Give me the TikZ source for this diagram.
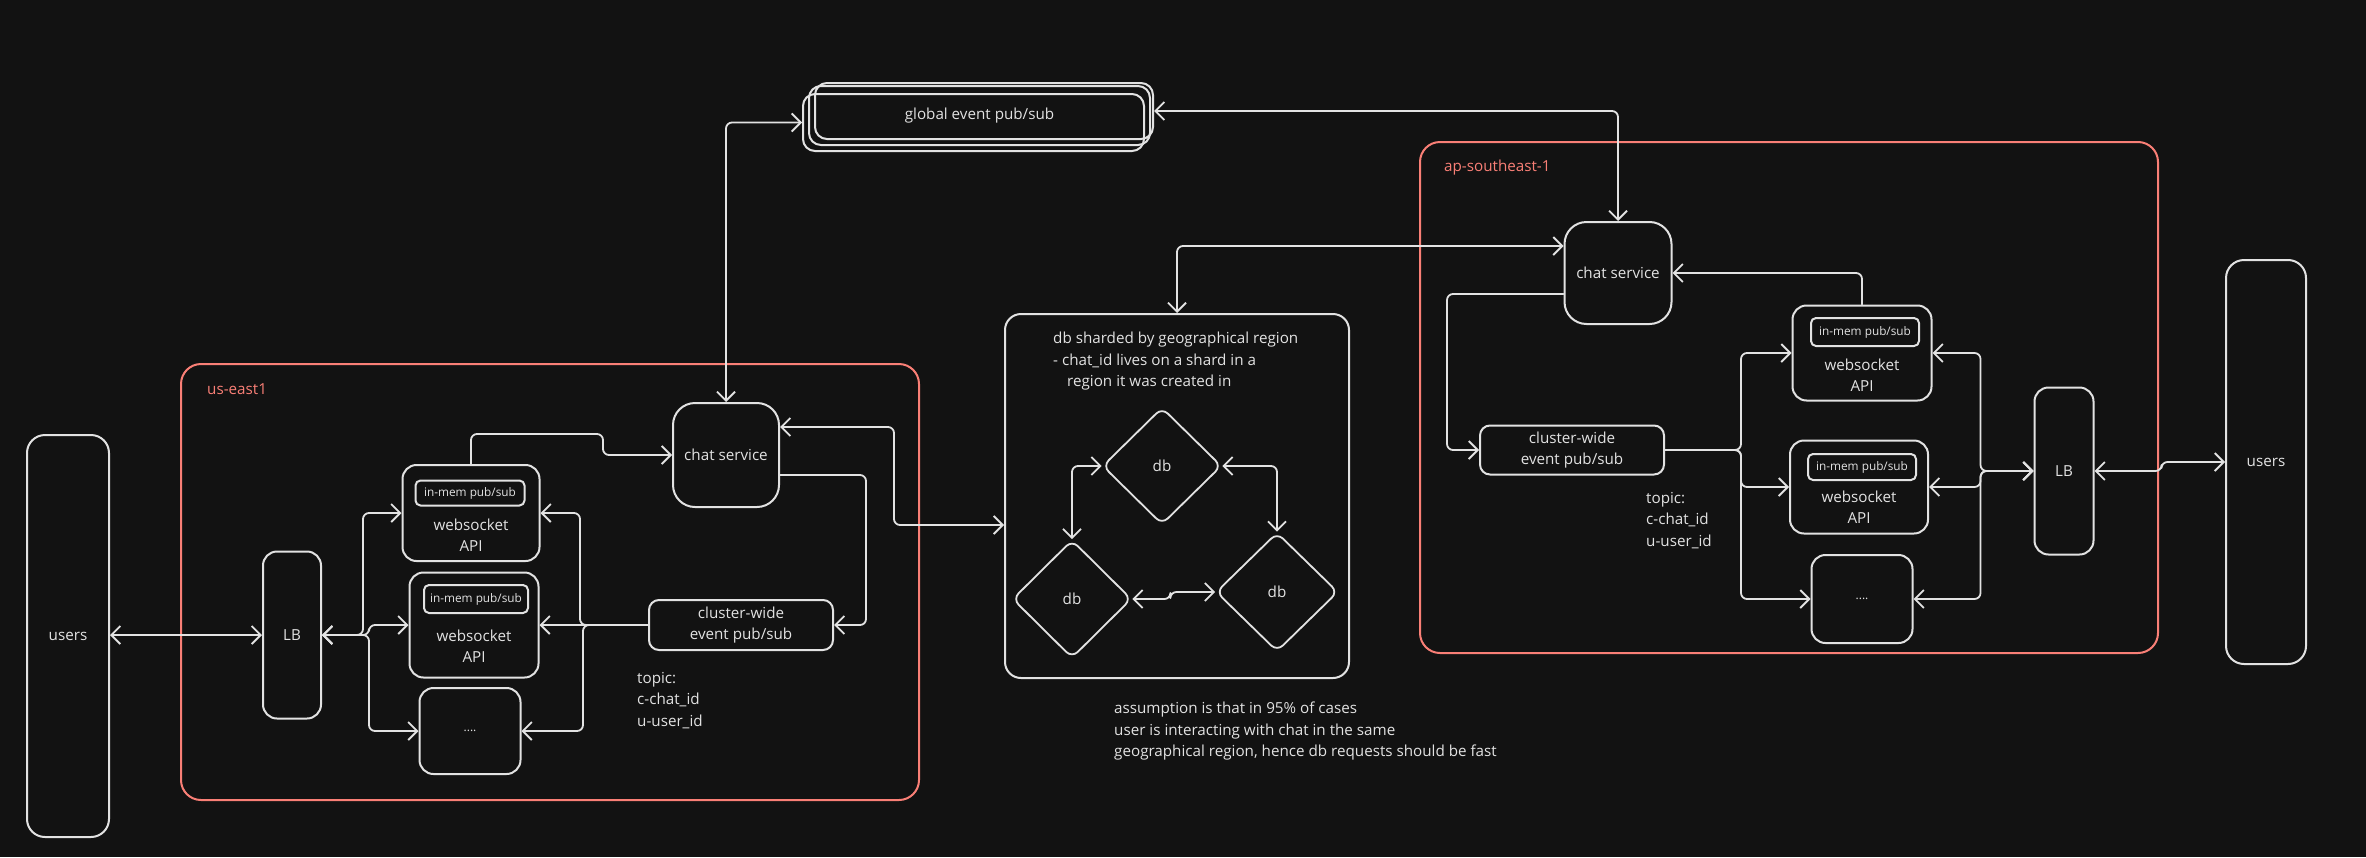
\documentclass[tikz,border=0pt]{standalone}
\usepackage{fontspec}
\setmainfont{Open Sans}
\usetikzlibrary{arrows.meta,calc,shapes.geometric}
\definecolor{bg}{HTML}{121212}
\definecolor{ink}{HTML}{E2E2E2}
\definecolor{zone}{HTML}{F97F76}
\newcommand{\txtsize}{\fontsize{15.2}{21.5}\selectfont}

\begin{document}
\begin{tikzpicture}[x=1pt,y=-1pt]
  \tikzset{
    >={Straight Barb[length=9pt,width=18pt]},
    box/.style={draw=ink, line width=2pt, rounded corners=14pt, text=ink, font=\txtsize, align=center, inner sep=0pt},
    pill/.style={draw=ink, line width=2pt, rounded corners=5pt, text=ink, font=\fontsize{11.8}{14}\selectfont, inner sep=0pt},
    shard/.style={diamond, draw=ink, line width=1.8pt, rounded corners=8pt, text=ink, font=\txtsize, inner sep=0pt},
    region/.style={draw=zone, line width=2pt, rounded corners=20pt},
    tag/.style={text=zone, font=\txtsize, anchor=west, inner sep=0pt},
    txt/.style={text=ink, font=\txtsize, align=center, inner sep=0pt},
    note/.style={text=ink, font=\txtsize, align=left, anchor=north west, inner sep=0pt},
    dots/.style={box, font=\fontsize{12}{12}\selectfont},
    every path/.append style={line cap=round, line join=round},
    link/.style={draw=ink, line width=1.8pt, rounded corners=6pt}
  }
  \fill[bg] (0,0) rectangle (2366,857);
  \useasboundingbox (0,0) rectangle (2366,857);

  % us-east1
  \draw[region] (181,364) rectangle (919,800);
  \node[tag] (ueTag) at (207,389) {us-east1};
  \node[box, minimum width=82pt, minimum height=402pt, rounded corners=18pt] (ueUsers) at (68,636) {users};
  \node[box, minimum width=58pt, minimum height=167pt] (ueLB) at (292,635) {LB};
  \node[box, minimum width=137pt, minimum height=96pt] (ueWsA) at (471,513) {};
  \node[pill, minimum width=109pt, minimum height=25pt] (ueMemA) at (470,493) {in-mem pub/sub};
  \node[txt] (ueApiA) at (471,535) {websocket\\API};
  \node[box, minimum width=129pt, minimum height=105pt] (ueWsB) at (474,625) {};
  \node[pill, minimum width=104pt, minimum height=28pt] (ueMemB) at (476,599) {in-mem pub/sub};
  \node[txt] (ueApiB) at (474,646) {websocket\\API};
  \node[dots, minimum width=101pt, minimum height=86pt] (ueMore) at (470,731) {....};
  \node[box, minimum width=106pt, minimum height=104pt, rounded corners=22pt] (ueChat) at (726,455) {chat service};
  \node[box, minimum width=184pt, minimum height=50pt, rounded corners=10pt] (ueBus) at (741,625) {cluster-wide\\event pub/sub};
  \node[note] (ueTopic) at (637,672) {topic:\\c-chat\_id\\u-user\_id};

  % global bus
  \node[box, minimum width=338pt, minimum height=56pt, rounded corners=12pt] (globalC) at (984,111) {};
  \node[box, minimum width=341pt, minimum height=59pt, rounded corners=12pt] (globalB) at (979.5,115.5) {global event pub/sub};
  \node[box, minimum width=341pt, minimum height=57pt, rounded corners=12pt] (globalA) at (973.5,122.5) {};

  % sharded db
  \node[box, minimum width=344pt, minimum height=364pt, rounded corners=16pt] (dbBox) at (1177,496) {};
  \node[note] (dbNote) at (1053,332) {db sharded by geographical region\\- chat\_id lives on a shard in a\\\hspace*{14pt}region it was created in};
  \node[shard, minimum width=119pt, minimum height=117pt] (dbTop) at (1162,466) {db};
  \node[shard, minimum width=119pt, minimum height=118pt] (dbLeft) at (1072,599) {db};
  \node[shard, minimum width=122pt, minimum height=119pt] (dbRight) at (1277,592) {db};
  \node[note] (dbAssume) at (1114,702) {assumption is that in 95\% of cases\\user is interacting with chat in the same\\geographical region, hence db requests should be fast};

  % ap-southeast-1
  \draw[region] (1420,142) rectangle (2158,653);
  \node[tag] (apTag) at (1444,168) {ap-southeast-1};
  \node[box, minimum width=107pt, minimum height=102pt, rounded corners=22pt] (apChat) at (1618,273) {chat service};
  \node[box, minimum width=184pt, minimum height=49pt, rounded corners=10pt] (apBus) at (1572,450) {cluster-wide\\event pub/sub};
  \node[note] (apTopic) at (1646,492) {topic:\\c-chat\_id\\u-user\_id};
  \node[box, minimum width=139pt, minimum height=95pt] (apWsA) at (1862,353) {};
  \node[pill, minimum width=108pt, minimum height=28pt] (apMemA) at (1865,332) {in-mem pub/sub};
  \node[txt] (apApiA) at (1862,375) {websocket\\API};
  \node[box, minimum width=138pt, minimum height=93pt] (apWsB) at (1859,487) {};
  \node[pill, minimum width=108pt, minimum height=26pt] (apMemB) at (1862,467) {in-mem pub/sub};
  \node[txt] (apApiB) at (1859,507) {websocket\\API};
  \node[dots, minimum width=101pt, minimum height=88pt] (apMore) at (1862,599) {....};
  \node[box, minimum width=59pt, minimum height=167pt] (apLB) at (2064,471) {LB};
  \node[box, minimum width=80pt, minimum height=404pt, rounded corners=18pt] (apUsers) at (2266,462) {users};

  % connectors, us-east1
  \draw[link, <->] (ueLB.west -| ueUsers.east) -- (ueLB.west);
  \draw[link, <->] (ueLB.east) -- ++(41,0) |- (ueWsA.west);
  \draw[link, <->] (ueLB.east) -- ++(47,0) |- (ueWsB.west);
  \draw[link, <->] (ueLB.east) -- ++(47,0) |- (ueMore.west);
  \draw[link, ->] (ueWsA.north) -- ++(0,-30) -| ($(ueChat.west)+(-69,0)$) -- (ueChat.west);
  \draw[link, ->] ([yshift=-20pt]ueChat.east) -| ($(ueBus.east)+(32,0)$) -- (ueBus.east);
  \draw[link, ->] (ueBus.west) -- (ueWsB.east);
  \draw[link, ->] (ueBus.west) -- ++(-68,0) |- (ueWsA.east);
  \draw[link, ->] (ueBus.west) -- ++(-65,0) |- (ueMore.east);

  % connectors, across regions
  \draw[link, <->] (ueChat.north) |- (globalA.west);
  \draw[link, <->] ([yshift=28pt]ueChat.east) -- ++(114,0) |- ([yshift=-29pt]dbBox.west);
  \draw[link, <->] (globalC.east) -| (apChat.north);
  \draw[link, <->] ([yshift=27pt]apChat.west) -| (dbBox.north);

  % connectors, db shards
  \draw[link, <->] (dbTop.west) -| (dbLeft.north);
  \draw[link, <->] (dbTop.east) -| (dbRight.north);
  \draw[link, <->] (dbLeft.east) -- ++(38,0) |- (dbRight.west);

  % connectors, ap-southeast-1
  \draw[link, ->] ([yshift=-21pt]apChat.west) -| ($(apBus.west)+(-32,0)$) -- (apBus.west);
  \draw[link, ->] (apWsA.north) |- (apChat.east);
  \draw[link, ->] (apBus.east) -- ++(76,0) |- (apWsA.west);
  \draw[link, ->] (apBus.east) -- ++(76,0) |- (apWsB.west);
  \draw[link, ->] (apBus.east) -- ++(76,0) |- (apMore.west);
  \draw[link, <->] (apLB.west) -- ++(-53,0) |- (apWsA.east);
  \draw[link, <->] (apLB.west) -- ++(-53,0) |- (apWsB.east);
  \draw[link, <->] (apLB.west) -- ++(-53,0) |- (apMore.east);
  \draw[link, <->] (apLB.east) -- ++(67,0) |- (apUsers.west);
\end{tikzpicture}
\end{document}
